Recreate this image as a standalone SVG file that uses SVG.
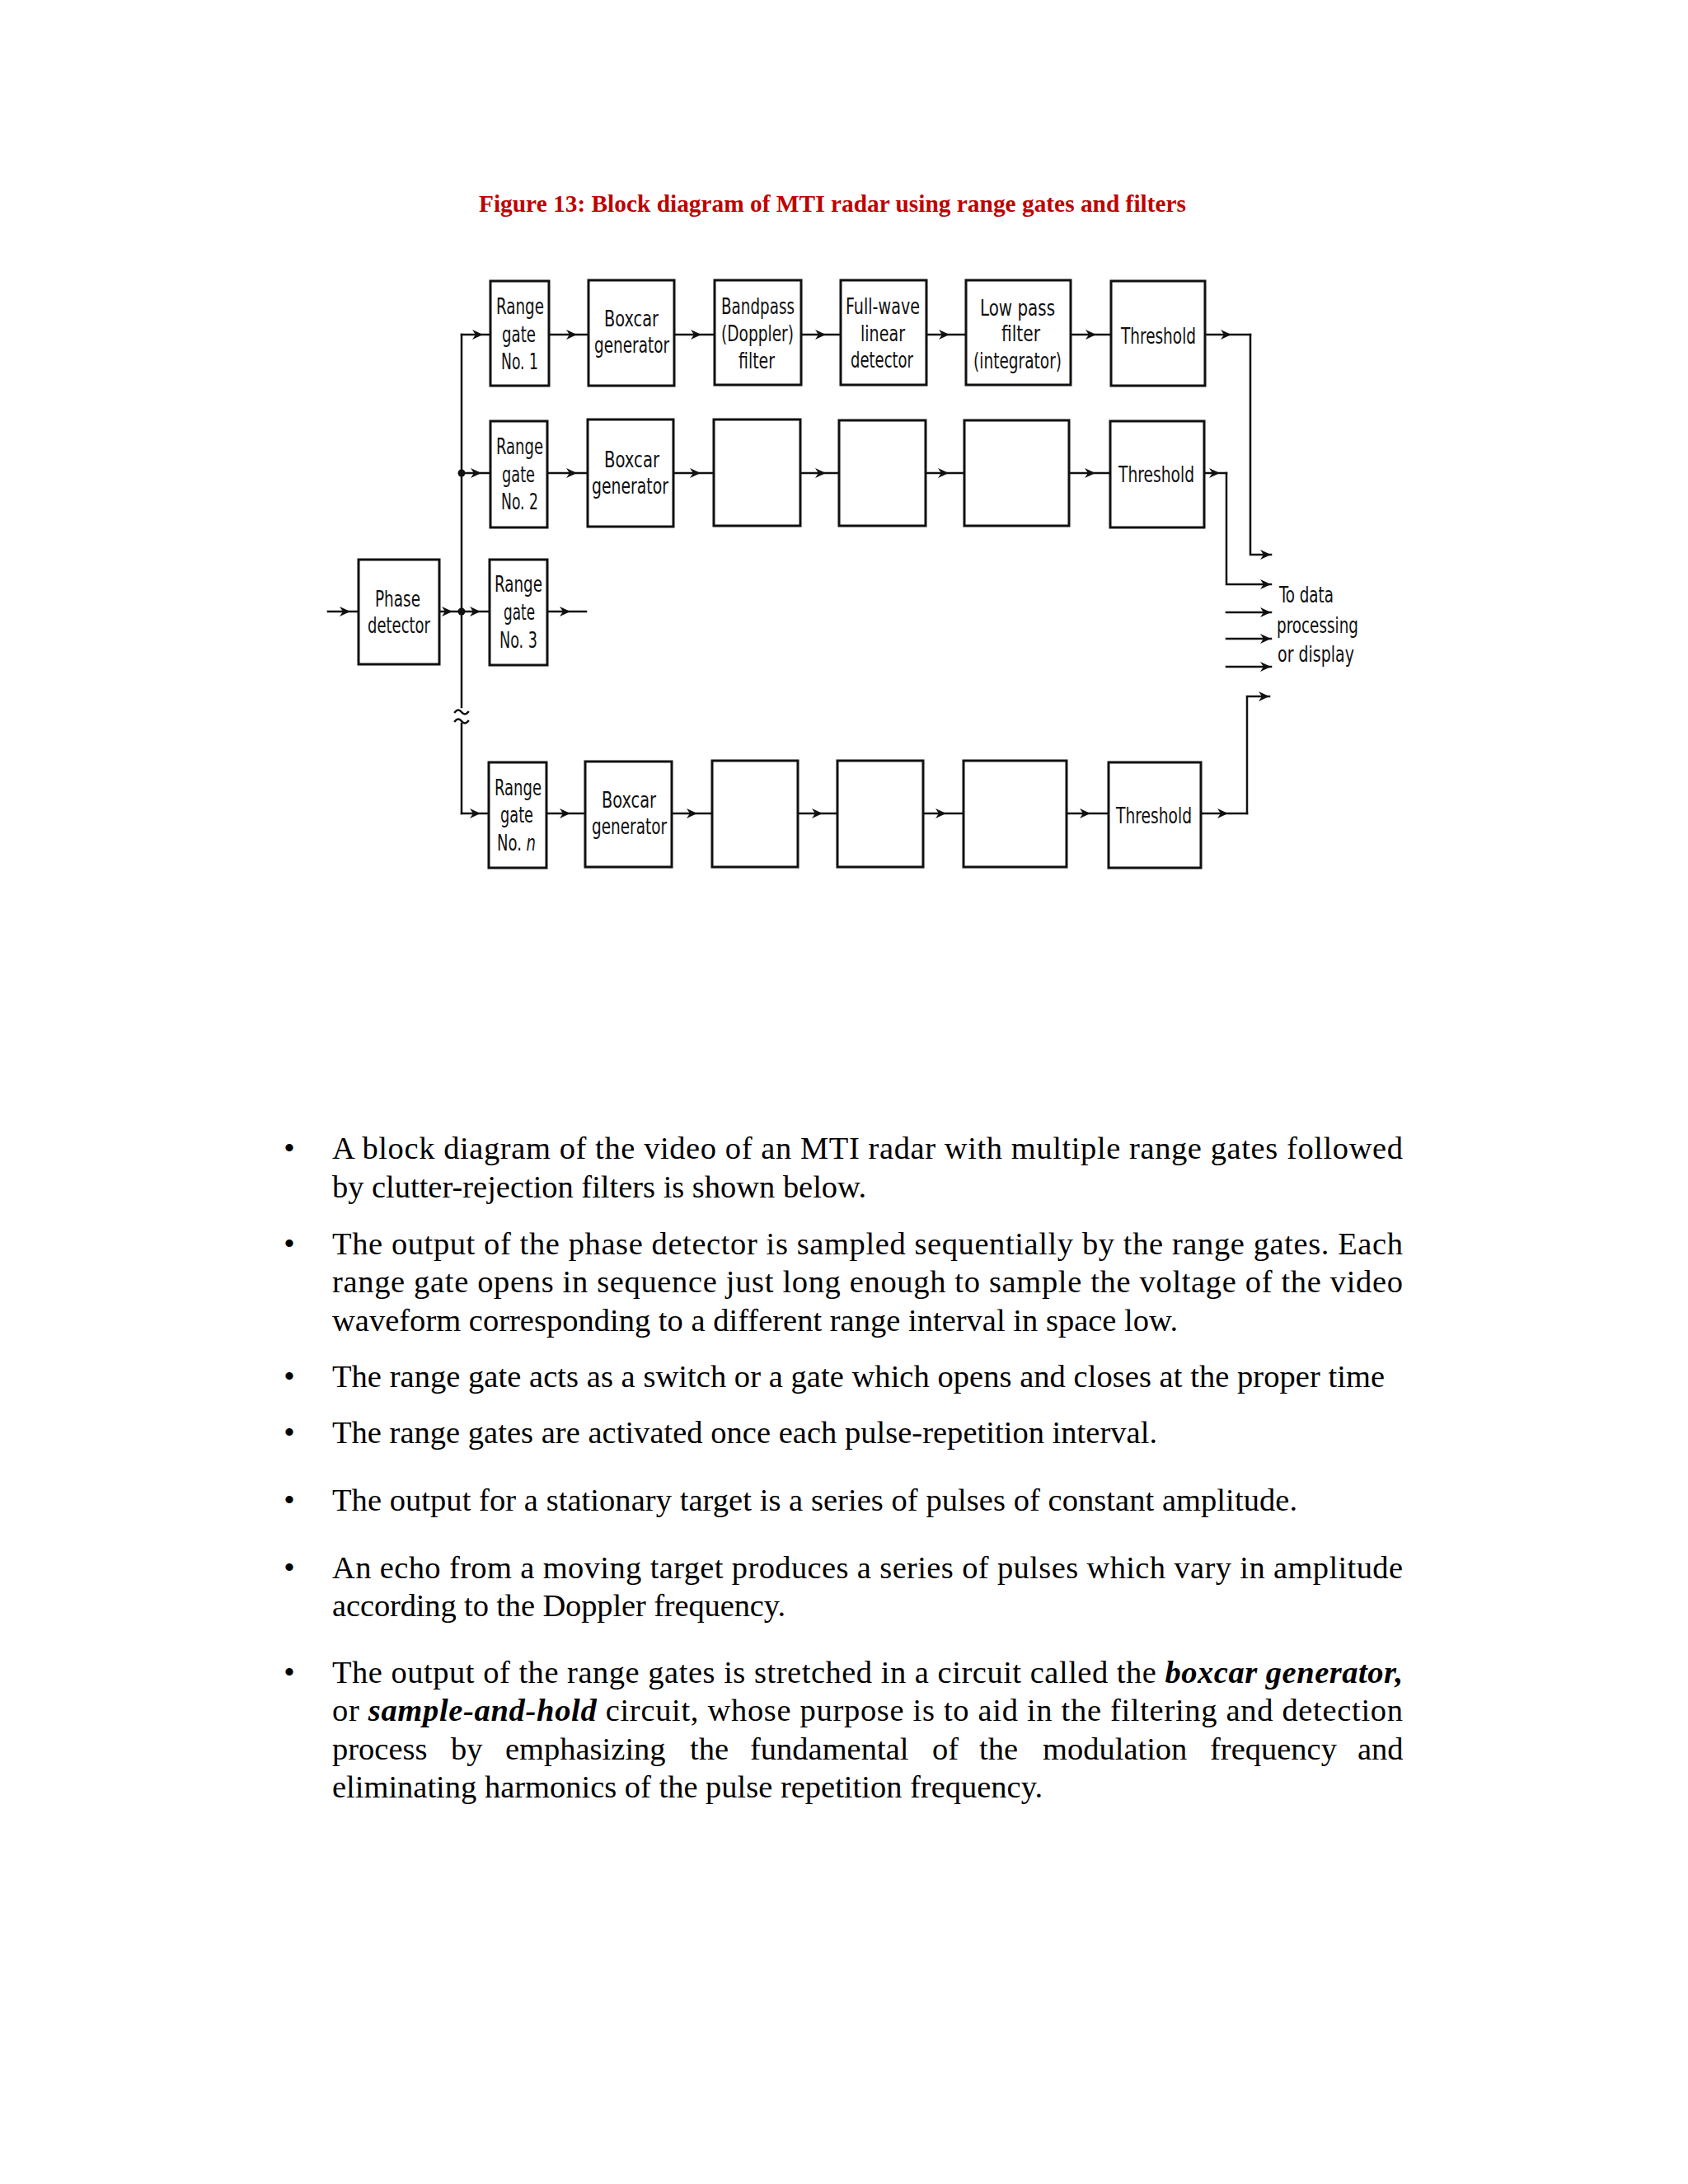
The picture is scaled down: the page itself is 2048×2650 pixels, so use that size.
<svg xmlns="http://www.w3.org/2000/svg" width="2048" height="2650" viewBox="0 0 2048 2650">
<style>
.box{fill:#fff;stroke:#111;stroke-width:3}
.lbl{font-family:"DejaVu Sans Condensed","DejaVu Sans",sans-serif;font-size:26px;fill:#111}
.wire{fill:none;stroke:#111;stroke-width:2.5;stroke-linecap:square}
.mid{marker-mid:url(#ah)}
.end{marker-end:url(#ah)}
.body{font-family:"Liberation Serif","Times New Roman",serif;font-size:38.5px;fill:#000}
.bi{font-weight:bold;font-style:italic}
.title{font-family:"Liberation Serif","Times New Roman",serif;font-size:29px;font-weight:bold;fill:#c00000}
</style>
<defs>
<marker id="ah" viewBox="-14 -7 16 14" refX="0" refY="0" markerWidth="16" markerHeight="14" markerUnits="userSpaceOnUse" orient="auto">
<path d="M0,0 L-13,-6 L-9,0 L-13,6 Z" fill="#111"/>
</marker>
</defs>
<rect width="2048" height="2650" fill="#fff"/>

<text class="title" x="581" y="257" textLength="858" lengthAdjust="spacingAndGlyphs">Figure 13: Block diagram of MTI radar using range gates and filters</text>

<g id="connectors">
<path class="wire" d="M560 406 V858"/>
<path class="wire" d="M560 878 V987"/>
<path class="wire" d="M552 864 q4 -5 8 0 t8 0"/>
<path class="wire" d="M552 875 q4 -5 8 0 t8 0"/>
<circle cx="560" cy="574" r="4.5" fill="#111"/>
<circle cx="560" cy="742" r="4.5" fill="#111"/>
<!-- row 1 -->
<path class="wire mid" d="M560 406 H586 H595"/>
<path class="wire mid" d="M666 406 H700 H714"/>
<path class="wire mid" d="M818 406 H851 H867"/>
<path class="wire mid" d="M972 406 H1002 H1020"/>
<path class="wire mid" d="M1124 406 H1152 H1172"/>
<path class="wire mid" d="M1299 406 H1330 H1348"/>
<path class="wire mid" d="M1462 406 H1494 H1517"/>
<path class="wire end" d="M1517 406 V673 H1542"/>
<!-- row 2 -->
<path class="wire mid" d="M560 574 H584 H595"/>
<path class="wire mid" d="M664 574 H700 H713"/>
<path class="wire mid" d="M817 574 H850 H866"/>
<path class="wire mid" d="M971 574 H1002 H1018"/>
<path class="wire mid" d="M1123 574 H1151 H1170"/>
<path class="wire mid" d="M1297 574 H1329 H1347"/>
<path class="wire mid" d="M1461 574 H1480 H1488"/>
<path class="wire end" d="M1488 574 V709 H1542"/>
<!-- row 3 -->
<path class="wire mid" d="M398 742 H425 H435"/>
<path class="wire mid" d="M533 742 H549 H560"/>
<path class="wire mid" d="M560 742 H583 H594"/>
<path class="wire mid" d="M664 742 H692 H711"/>
<!-- row n -->
<path class="wire mid" d="M560 987 H583 H593"/>
<path class="wire mid" d="M663 987 H692 H710"/>
<path class="wire mid" d="M815 987 H846 H864"/>
<path class="wire mid" d="M968 987 H998 H1016"/>
<path class="wire mid" d="M1120 987 H1148 H1169"/>
<path class="wire mid" d="M1294 987 H1323 H1345"/>
<path class="wire mid" d="M1457 987 H1490 H1513"/>
<path class="wire end" d="M1513 987 V845 H1540"/>
<!-- outputs -->
<path class="wire end" d="M1488 743 H1542"/>
<path class="wire end" d="M1488 775 H1542"/>
<path class="wire end" d="M1488 809 H1542"/>
</g>

<g id="phase-detector">
<rect class="box" x="435" y="679" width="98" height="127"/>
<text class="lbl" x="455" y="736" textLength="55" lengthAdjust="spacingAndGlyphs">Phase</text>
<text class="lbl" x="446" y="768" textLength="76" lengthAdjust="spacingAndGlyphs">detector</text>
</g>

<g id="range-gate-1">
<rect class="box" x="595" y="341" width="71" height="127"/>
<text class="lbl" x="602" y="381" textLength="58" lengthAdjust="spacingAndGlyphs">Range</text>
<text class="lbl" x="609" y="415" textLength="41" lengthAdjust="spacingAndGlyphs">gate</text>
<text class="lbl" x="608" y="448" textLength="45" lengthAdjust="spacingAndGlyphs">No. 1</text>
</g>
<g id="boxcar-1">
<rect class="box" x="714" y="340" width="104" height="128"/>
<text class="lbl" x="733" y="396" textLength="66" lengthAdjust="spacingAndGlyphs">Boxcar</text>
<text class="lbl" x="721" y="428" textLength="91" lengthAdjust="spacingAndGlyphs">generator</text>
</g>
<g id="bandpass-1">
<rect class="box" x="867" y="340" width="105" height="127"/>
<text class="lbl" x="875" y="381" textLength="89" lengthAdjust="spacingAndGlyphs">Bandpass</text>
<text class="lbl" x="875" y="414" textLength="88" lengthAdjust="spacingAndGlyphs">(Doppler)</text>
<text class="lbl" x="896" y="447" textLength="44" lengthAdjust="spacingAndGlyphs">filter</text>
</g>
<g id="detector-1">
<rect class="box" x="1020" y="340" width="104" height="127"/>
<text class="lbl" x="1026" y="381" textLength="90" lengthAdjust="spacingAndGlyphs">Full-wave</text>
<text class="lbl" x="1044" y="414" textLength="54" lengthAdjust="spacingAndGlyphs">linear</text>
<text class="lbl" x="1032" y="446" textLength="76" lengthAdjust="spacingAndGlyphs">detector</text>
</g>
<g id="lowpass-1">
<rect class="box" x="1172" y="340" width="127" height="127"/>
<text class="lbl" x="1189" y="383" textLength="91" lengthAdjust="spacingAndGlyphs">Low pass</text>
<text class="lbl" x="1215" y="414" textLength="47" lengthAdjust="spacingAndGlyphs">filter</text>
<text class="lbl" x="1181" y="447" textLength="107" lengthAdjust="spacingAndGlyphs">(integrator)</text>
</g>
<g id="threshold-1">
<rect class="box" x="1348" y="341" width="114" height="127"/>
<text class="lbl" x="1360" y="417" textLength="91" lengthAdjust="spacingAndGlyphs">Threshold</text>
</g>

<g id="range-gate-2">
<rect class="box" x="595" y="511" width="69" height="129"/>
<text class="lbl" x="602" y="551" textLength="57" lengthAdjust="spacingAndGlyphs">Range</text>
<text class="lbl" x="609" y="585" textLength="40" lengthAdjust="spacingAndGlyphs">gate</text>
<text class="lbl" x="608" y="618" textLength="45" lengthAdjust="spacingAndGlyphs">No. 2</text>
</g>
<g id="boxcar-2">
<rect class="box" x="713" y="509" width="104" height="130"/>
<text class="lbl" x="733" y="567" textLength="67" lengthAdjust="spacingAndGlyphs">Boxcar</text>
<text class="lbl" x="718" y="599" textLength="93" lengthAdjust="spacingAndGlyphs">generator</text>
</g>
<g id="bandpass-2"><rect class="box" x="866" y="509" width="105" height="129"/></g>
<g id="detector-2"><rect class="box" x="1018" y="510" width="105" height="128"/></g>
<g id="lowpass-2"><rect class="box" x="1170" y="510" width="127" height="128"/></g>
<g id="threshold-2">
<rect class="box" x="1347" y="511" width="114" height="129"/>
<text class="lbl" x="1357" y="585" textLength="92" lengthAdjust="spacingAndGlyphs">Threshold</text>
</g>

<g id="range-gate-3">
<rect class="box" x="594" y="679" width="70" height="128"/>
<text class="lbl" x="600" y="718" textLength="58" lengthAdjust="spacingAndGlyphs">Range</text>
<text class="lbl" x="611" y="752" textLength="38" lengthAdjust="spacingAndGlyphs">gate</text>
<text class="lbl" x="606" y="786" textLength="46" lengthAdjust="spacingAndGlyphs">No. 3</text>
</g>

<g id="range-gate-n">
<rect class="box" x="593" y="925" width="70" height="128"/>
<text class="lbl" x="600" y="965" textLength="57" lengthAdjust="spacingAndGlyphs">Range</text>
<text class="lbl" x="607" y="998" textLength="40" lengthAdjust="spacingAndGlyphs">gate</text>
<text class="lbl" x="603" y="1032" textLength="47" lengthAdjust="spacingAndGlyphs">No. <tspan font-style="italic">n</tspan></text>
</g>
<g id="boxcar-n">
<rect class="box" x="710" y="924" width="105" height="128"/>
<text class="lbl" x="730" y="980" textLength="66" lengthAdjust="spacingAndGlyphs">Boxcar</text>
<text class="lbl" x="718" y="1012" textLength="91" lengthAdjust="spacingAndGlyphs">generator</text>
</g>
<g id="bandpass-n"><rect class="box" x="864" y="923" width="104" height="129"/></g>
<g id="detector-n"><rect class="box" x="1016" y="923" width="104" height="129"/></g>
<g id="lowpass-n"><rect class="box" x="1169" y="923" width="125" height="129"/></g>
<g id="threshold-n">
<rect class="box" x="1345" y="925" width="112" height="128"/>
<text class="lbl" x="1354" y="999" textLength="92" lengthAdjust="spacingAndGlyphs">Threshold</text>
</g>

<g id="output-label">
<text class="lbl" x="1552" y="731" textLength="66" lengthAdjust="spacingAndGlyphs">To data</text>
<text class="lbl" x="1549" y="768" textLength="99" lengthAdjust="spacingAndGlyphs">processing</text>
<text class="lbl" x="1550" y="803" textLength="93" lengthAdjust="spacingAndGlyphs">or display</text>
</g>

<g id="body-text" class="body">
<text x="351" y="1406" text-anchor="middle">•</text>
<text x="403" y="1406" textLength="1299" lengthAdjust="spacing">A block diagram of the video of an MTI radar with multiple range gates followed</text>
<text x="403" y="1453" textLength="648" lengthAdjust="spacing">by clutter-rejection filters is shown below.</text>

<text x="351" y="1522" text-anchor="middle">•</text>
<text x="403" y="1522" textLength="1299" lengthAdjust="spacing">The output of the phase detector is sampled sequentially by the range gates. Each</text>
<text x="403" y="1568" textLength="1299" lengthAdjust="spacing">range gate opens in sequence just long enough to sample the voltage of the video</text>
<text x="403" y="1615" textLength="1026" lengthAdjust="spacing">waveform corresponding to a different range interval in space low.</text>

<text x="351" y="1683" text-anchor="middle">•</text>
<text x="403" y="1683" textLength="1277" lengthAdjust="spacing">The range gate acts as a switch or a gate which opens and closes at the proper time</text>

<text x="351" y="1751" text-anchor="middle">•</text>
<text x="403" y="1751" textLength="1001" lengthAdjust="spacing">The range gates are activated once each pulse-repetition interval.</text>

<text x="351" y="1833" text-anchor="middle">•</text>
<text x="403" y="1833" textLength="1171" lengthAdjust="spacing">The output for a stationary target is a series of pulses of constant amplitude.</text>

<text x="351" y="1915" text-anchor="middle">•</text>
<text x="403" y="1915" textLength="1299" lengthAdjust="spacing">An echo from a moving target produces a series of pulses which vary in amplitude</text>
<text x="403" y="1961" textLength="550" lengthAdjust="spacing">according to the Doppler frequency.</text>

<text x="351" y="2042" text-anchor="middle">•</text>
<text x="403" y="2042" textLength="1299" lengthAdjust="spacing">The output of the range gates is stretched in a circuit called the <tspan class="bi">boxcar generator,</tspan></text>
<text x="403" y="2088" textLength="1299" lengthAdjust="spacing">or <tspan class="bi">sample-and-hold</tspan> circuit, whose purpose is to aid in the filtering and detection</text>
<text y="2135"><tspan x="403">process</tspan> <tspan x="547">by</tspan> <tspan x="613">emphasizing</tspan> <tspan x="837">the</tspan> <tspan x="910">fundamental</tspan> <tspan x="1131">of</tspan> <tspan x="1188">the</tspan> <tspan x="1265">modulation</tspan> <tspan x="1468">frequency</tspan> <tspan x="1647">and</tspan></text>
<text x="403" y="2181" textLength="862" lengthAdjust="spacing">eliminating harmonics of the pulse repetition frequency.</text>
</g>
</svg>
